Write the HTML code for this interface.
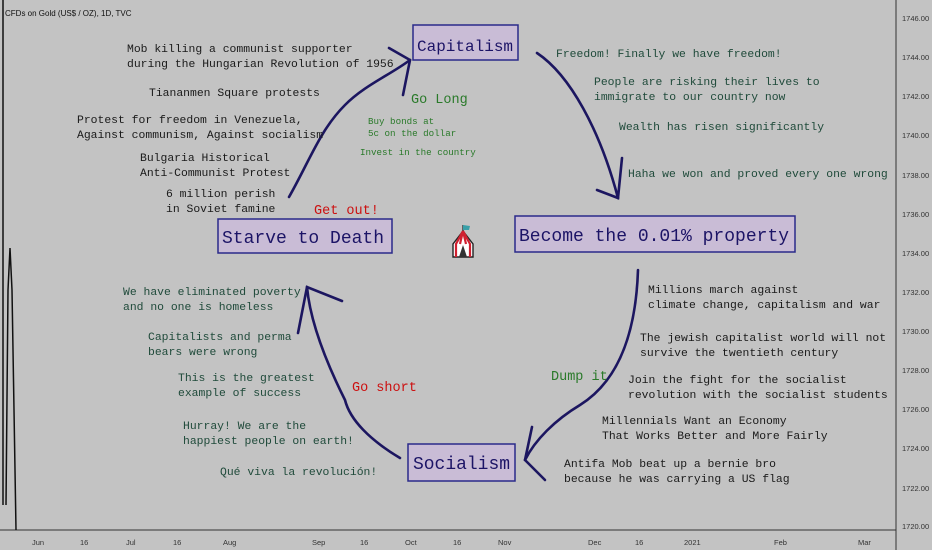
<!DOCTYPE html>
<html><head><meta charset="utf-8"><style>
body{margin:0;background:#c3c3c3;}
svg{display:block}
.t{font-family:"Liberation Mono",monospace;font-size:11.4px;fill:#1a1a1a}
.g{fill:#1f4a3a}
.b{font-family:"Liberation Mono",monospace;font-size:18px;fill:#1c1466}
.ax{font-family:"Liberation Sans",sans-serif;font-size:7.5px;fill:#333}
</style></head><body>
<svg width="932" height="550" viewBox="0 0 932 550" xmlns="http://www.w3.org/2000/svg">
<rect width="932" height="550" fill="#c3c3c3"/>
<line x1="896" y1="0" x2="896" y2="550" stroke="#333" stroke-width="1"/>
<line x1="0" y1="530" x2="896" y2="530" stroke="#333" stroke-width="1"/>
<g class="ax">
<text x="902" y="21">1746.00</text><text x="902" y="60">1744.00</text><text x="902" y="99">1742.00</text><text x="902" y="138">1740.00</text><text x="902" y="178">1738.00</text><text x="902" y="217">1736.00</text><text x="902" y="256">1734.00</text><text x="902" y="295">1732.00</text><text x="902" y="334">1730.00</text><text x="902" y="373">1728.00</text><text x="902" y="412">1726.00</text><text x="902" y="451">1724.00</text><text x="902" y="491">1722.00</text><text x="902" y="529">1720.00</text>
<text x="32" y="545">Jun</text><text x="80" y="545">16</text><text x="126" y="545">Jul</text><text x="173" y="545">16</text><text x="223" y="545">Aug</text><text x="312" y="545">Sep</text><text x="360" y="545">16</text><text x="405" y="545">Oct</text><text x="453" y="545">16</text><text x="498" y="545">Nov</text><text x="588" y="545">Dec</text><text x="635" y="545">16</text><text x="684" y="545">2021</text><text x="774" y="545">Feb</text><text x="858" y="545">Mar</text>
</g>
<text x="5" y="16" style="font-family:'Liberation Sans',sans-serif;font-size:8px;fill:#111">CFDs on Gold (US$ / OZ), 1D, TVC</text>
<polyline points="3,0 3,505" fill="none" stroke="#111" stroke-width="1.5"/>
<polyline points="6,505 8,290 10,248 12,290 16,530" fill="none" stroke="#111" stroke-width="1.5"/>

<rect x="413" y="25" width="105" height="35" fill="#c9bcd6" stroke="#2a2a8a" stroke-width="1.5"/>
<text class="b" x="417" y="51" style="font-size:16px">Capitalism</text>
<rect x="515" y="216" width="280" height="36" fill="#c9bcd6" stroke="#2a2a8a" stroke-width="1.5"/>
<text class="b" x="519" y="241">Become the 0.01% property</text>
<rect x="218" y="219" width="174" height="34" fill="#c9bcd6" stroke="#2a2a8a" stroke-width="1.5"/>
<text class="b" x="222" y="243">Starve to Death</text>
<rect x="408" y="444" width="107" height="37" fill="#c9bcd6" stroke="#2a2a8a" stroke-width="1.5"/>
<text class="b" x="413" y="469" textLength="97" lengthAdjust="spacingAndGlyphs">Socialism</text>

<g transform="translate(451,223)">
<path d="M12 2 L12 8" stroke="#222" stroke-width="1.2"/>
<path d="M12 2 L19 3 L18 7 L12 7Z" fill="#3aa0a8"/>
<path d="M12 8 L2 21 L2 34 L22 34 L22 21Z" fill="#fff" stroke="#222" stroke-width="1.4"/>
<path d="M12 8 L5 21 L5 34 M12 8 L9 21 M12 8 L15 21 M12 8 L19 21 L19 34" stroke="#d02030" stroke-width="2.2" fill="none"/>
<path d="M8 34 L12 22 L16 34Z" fill="#333"/>
</g>

<g fill="none" stroke="#1c1660" stroke-width="2.6" stroke-linecap="round">
<path d="M289 197 C310 160 320 130 345 105 C365 85 390 75 410 60"/>
<path d="M389 48 L410 60 L403 95"/>
<path d="M537 53 C570 75 600 130 618 198"/>
<path d="M597 190 L618 198 L622 158"/>
<path d="M638 270 C636 330 620 380 580 405 C555 420 535 440 525 460"/>
<path d="M532 427 L525 460 L545 480"/>
<path d="M400 458 C370 440 350 420 345 400 C325 360 310 320 307 287"/>
<path d="M298 333 L307 287 L342 301"/>
</g>

<g class="t">
<text x="127" y="52">Mob killing a communist supporter</text>
<text x="127" y="67">during the Hungarian Revolution of 1956</text>
<text x="149" y="96">Tiananmen Square protests</text>
<text x="77" y="123">Protest for freedom in Venezuela,</text>
<text x="77" y="138">Against communism, Against socialism</text>
<text x="140" y="161">Bulgaria Historical</text>
<text x="140" y="176">Anti-Communist Protest</text>
<text x="166" y="197">6 million perish</text>
<text x="166" y="212">in Soviet famine</text>
</g>
<text x="314" y="214" style="font-family:'Liberation Mono',monospace;font-size:13.5px;fill:#cc1010">Get out!</text>
<text x="411" y="103" style="font-family:'Liberation Mono',monospace;font-size:13.5px;fill:#2a7a2a">Go Long</text>
<g style="font-family:'Liberation Mono',monospace;font-size:9.2px;fill:#2a7a2a">
<text x="368" y="124">Buy bonds at</text>
<text x="368" y="136">5c on the dollar</text>
<text x="360" y="155">Invest in the country</text>
</g>
<g class="t g">
<text x="556" y="57">Freedom! Finally we have freedom!</text>
<text x="594" y="85">People are risking their lives to</text>
<text x="594" y="100">immigrate to our country now</text>
<text x="619" y="130">Wealth has risen significantly</text>
<text x="628" y="177">Haha we won and proved every one wrong</text>
</g>
<g class="t">
<text x="648" y="293">Millions march against</text>
<text x="648" y="308">climate change, capitalism and war</text>
<text x="640" y="341">The jewish capitalist world will not</text>
<text x="640" y="356">survive the twentieth century</text>
<text x="628" y="383">Join the fight for the socialist</text>
<text x="628" y="398">revolution with the socialist students</text>
<text x="602" y="424">Millennials Want an Economy</text>
<text x="602" y="439">That Works Better and More Fairly</text>
<text x="564" y="467">Antifa Mob beat up a bernie bro</text>
<text x="564" y="482">because he was carrying a US flag</text>
</g>
<text x="551" y="380" style="font-family:'Liberation Mono',monospace;font-size:13.5px;fill:#2a7a2a">Dump it</text>
<g class="t g">
<text x="123" y="295">We have eliminated poverty</text>
<text x="123" y="310">and no one is homeless</text>
<text x="148" y="340">Capitalists and perma</text>
<text x="148" y="355">bears were wrong</text>
<text x="178" y="381">This is the greatest</text>
<text x="178" y="396">example of success</text>
<text x="183" y="429">Hurray! We are the</text>
<text x="183" y="444">happiest people on earth!</text>
<text x="220" y="475">Qué viva la revolución!</text>
</g>
<text x="352" y="391" style="font-family:'Liberation Mono',monospace;font-size:13.5px;fill:#cc1010">Go short</text>
</svg>
</body></html>
